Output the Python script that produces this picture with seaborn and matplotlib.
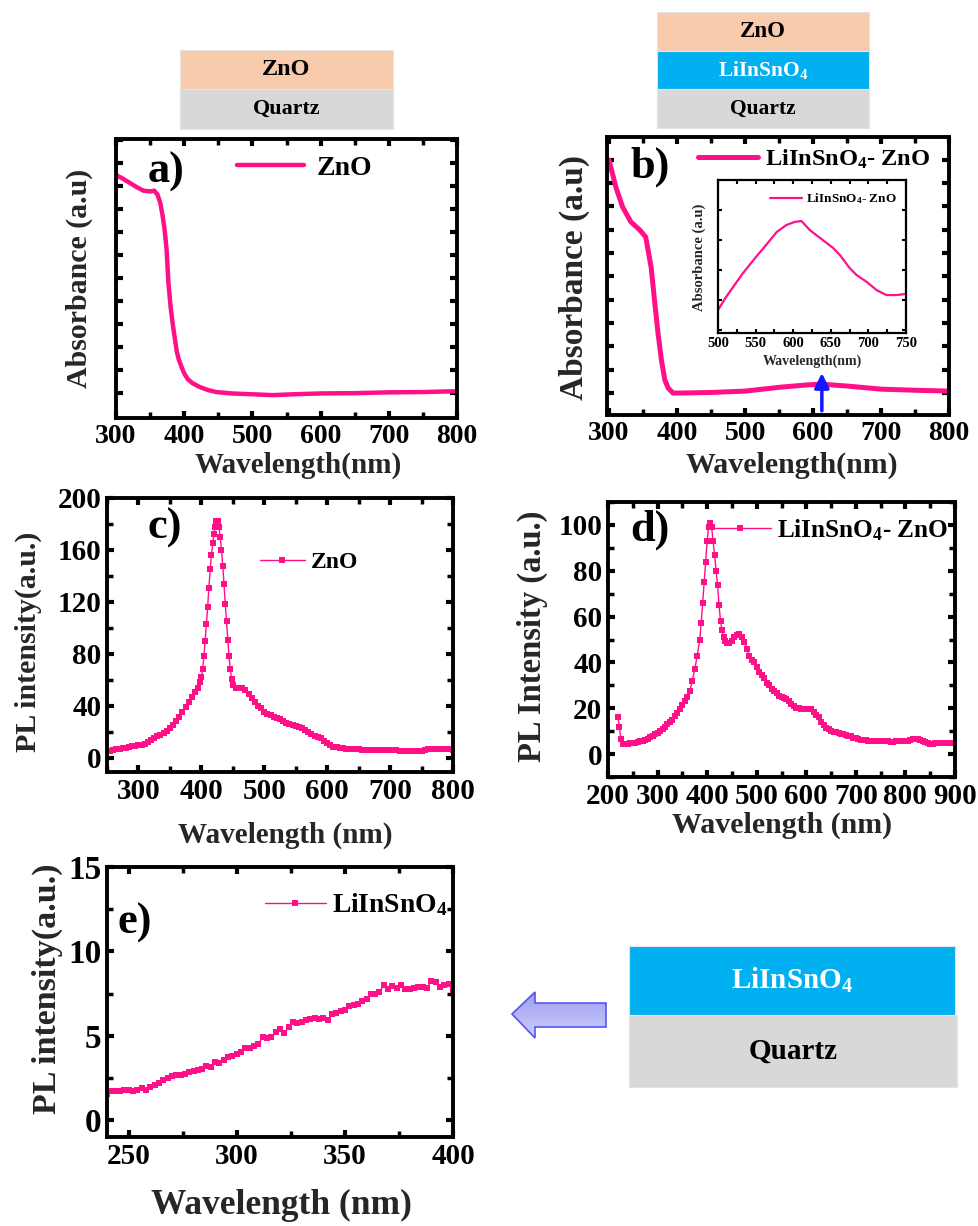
import numpy as np
import matplotlib
matplotlib.use("Agg")
import matplotlib.pyplot as plt
import seaborn as sns
from matplotlib.patches import Rectangle, Polygon
from matplotlib.ticker import MultipleLocator

# ---------------------------------------------------------------- data
# (a) absorbance of ZnO on quartz (arbitrary units)
wl_abs_zno = [300, 310, 320, 330, 340, 350, 356, 361, 365, 368, 371, 374, 377, 380,
              383, 386, 389, 392, 395, 400, 405, 412, 422, 435, 447, 470, 500, 530,
              560, 600, 650, 700, 750, 800]
abs_zno = [0.871, 0.858, 0.843, 0.828, 0.815, 0.812, 0.815, 0.80, 0.77, 0.73, 0.68,
           0.61, 0.48, 0.40, 0.34, 0.29, 0.24, 0.21, 0.19, 0.16, 0.14, 0.125, 0.112,
           0.10, 0.093, 0.088, 0.085, 0.082, 0.085, 0.088, 0.089, 0.092, 0.093, 0.096]

# (b) absorbance of LiInSnO4-ZnO
wl_abs_bi = [300, 310, 320, 332, 345, 354, 362, 367, 372, 377, 382, 387, 394, 404,
             450, 500, 552, 590, 612, 651, 700, 750, 800]
abs_bi = [0.917, 0.82, 0.748, 0.695, 0.666, 0.64, 0.53, 0.41, 0.295, 0.198, 0.126,
          0.097, 0.079, 0.079, 0.081, 0.086, 0.10, 0.108, 0.111, 0.104, 0.093, 0.089,
          0.086]

# (b, inset) visible band of LiInSnO4-ZnO
wl_inset = [500, 510, 520, 533, 551, 564, 578, 591, 602, 611, 622, 636, 653, 662,
            675, 684, 698, 711, 724, 738, 749]
abs_inset = [0.15, 0.23, 0.30, 0.39, 0.50, 0.575, 0.66, 0.706, 0.726, 0.732, 0.673,
             0.62, 0.556, 0.51, 0.425, 0.38, 0.333, 0.28, 0.248, 0.248, 0.255]

# (c) PL of ZnO
wl_pl_zno = np.concatenate([np.arange(250, 396, 5), np.arange(398, 451, 2),
                            np.arange(455, 801, 5)])
pl_zno = [5.0, 5.5, 6.0, 6.5, 7.0, 7.4, 7.8, 8.3, 8.8, 9.3, 9.6, 10.0, 10.6, 12.0,
          13.5, 15.0, 16.5, 17.8, 19.0, 20.5, 22.5, 25.0, 28.0, 31.0, 35.0, 39.0,
          43.0, 47.0, 50.5, 54.0,
          58, 62, 68, 78, 90, 103, 116, 131, 145, 156, 165, 172, 178, 182, 182, 178,
          170, 160, 148, 134, 118, 105, 91, 78, 68, 61, 56,
          54, 53.5, 53.5, 52, 49, 46, 43, 40, 38, 35.5, 34, 33, 31.5, 30.5, 29.5,
          28.5, 27, 26, 25.5, 24.5, 24, 23, 21.5, 20, 18.5, 17, 16, 15, 13, 11, 9.5,
          8.5, 8, 7.5, 7.2, 7, 6.9, 6.8, 6.6, 6.5, 6.3, 6.2, 6.1, 6, 5.9, 5.8, 5.7,
          5.7, 5.6, 5.6, 5.6, 5.6, 5.5, 5.5, 5.4, 5.3, 5.2, 5.2, 5.2, 5.3, 6.0, 6.8,
          7.0, 7.0, 6.9, 6.8, 6.6, 6.5, 6.4, 6.3]

# (d) PL of LiInSnO4-ZnO
wl_pl_bi = np.concatenate([[220, 223, 226, 230], np.arange(235, 386, 5),
                           np.arange(388, 437, 3), np.arange(440, 901, 5)])
pl_bi = [16, 12, 6.5, 4.5,
         4.5, 4.6, 4.7, 4.8, 5.0, 5.2, 5.5, 5.8, 6.2, 6.7, 7.3, 8.0, 8.7, 9.3, 10.0,
         10.8, 12, 13, 14, 15, 16.5, 18, 19.6, 21.5, 23, 25, 27.5, 32, 37, 43, 50,
         57, 66, 75, 84, 93, 99, 101, 99, 93, 87, 80, 74, 65, 58, 54, 51, 49.5,
         48.6, 48.6, 49.5, 51, 52, 52.5, 51, 49, 46, 43, 41, 40, 38, 36, 34.5, 33,
         31, 30, 28.5, 27.5, 26.5, 25.5, 25, 24.6, 24, 23, 22, 21, 20.3, 20, 19.8,
         19.5, 19.8, 19.6, 19.6, 18.5, 17, 16, 14, 12.5, 11.5, 10.8, 10.2, 9.8, 9.5,
         9.2, 8.9, 8.7, 8.4, 8.1, 7.7, 7.2, 6.9, 6.6, 6.3, 6.1, 6.0, 5.9, 5.8, 5.8,
         5.8, 5.7, 5.6, 5.6, 5.5, 5.5, 5.4, 5.4, 5.5, 5.6, 5.6, 5.7, 5.8, 5.9, 6.1,
         6.4, 6.5, 6.5, 6.2, 5.8, 5.2, 4.8, 4.6, 4.6, 4.7, 4.8, 4.8, 4.9, 4.9, 4.8,
         4.8, 4.8, 4.8]

# (e) PL of LiInSnO4
wl_pl_lis = np.arange(240, 401, 2)
pl_lis = [1.55, 1.70, 1.72, 1.73, 1.76, 1.80, 1.72, 1.78, 1.90, 1.80, 1.95, 2.10,
          2.20, 2.35, 2.50, 2.62, 2.65, 2.70, 2.75, 2.85, 2.92, 3.00, 3.05, 3.20,
          3.12, 3.45, 3.40, 3.55, 3.75, 3.80, 3.90, 4.05, 4.30, 4.25, 4.40, 4.50,
          4.95, 4.85, 4.90, 5.20, 5.40, 5.15, 5.50, 5.80, 5.75, 5.80, 5.95, 6.00,
          6.05, 6.00, 6.05, 5.95, 6.30, 6.35, 6.45, 6.55, 6.75, 6.85, 6.90, 7.05,
          7.15, 7.45, 7.50, 7.60, 8.00, 7.80, 7.95, 7.85, 8.00, 7.75, 7.80, 7.85,
          7.90, 7.90, 7.85, 8.25, 8.20, 7.90, 8.00, 8.05, 7.70]

PINK = "#ff1088"
W, H = 979, 1226

# ---------------------------------------------------------------- style
sns.set_theme(style="ticks")
plt.rcParams.update({
    "font.family": ["Liberation Serif", "DejaVu Serif"],
    "font.weight": "bold",
    "axes.labelweight": "bold",
    "mathtext.fontset": "custom",
    "mathtext.rm": "Liberation Serif:bold",
    "mathtext.it": "Liberation Serif:bold:italic",
    "mathtext.bf": "Liberation Serif:bold",
    "axes.linewidth": 2.8,
    "axes.edgecolor": "black",
    "text.color": "black",
    "xtick.color": "black",
    "ytick.color": "black",
})

fig = plt.figure(figsize=(W / 100, H / 100), dpi=100)


def frac(l, t, r, b):
    return [l / W, 1 - b / H, (r - l) / W, (b - t) / H]


def fig_pt(x, y):
    return (x / W, 1 - y / H)


def style_axes(ax, fs):
    ax.tick_params(which="both", direction="in", top=True, right=True,
                   labelsize=fs, pad=4)
    ax.tick_params(which="major", length=5, width=3)
    ax.tick_params(which="minor", length=4, width=2.5)
    for lab in ax.get_xticklabels() + ax.get_yticklabels():
        lab.set_fontweight("bold")


def place_labels(ax, box, xl, yl, xfs, yfs, xpos, ypos):
    l, t, r, b = box
    ax.set_xlabel(xl, fontsize=xfs, fontweight="bold")
    ax.set_ylabel(yl, fontsize=yfs, fontweight="bold")
    ax.xaxis.set_label_coords((xpos[0] - l) / (r - l), (b - xpos[1]) / (b - t))
    ax.yaxis.set_label_coords((ypos[0] - l) / (r - l), (b - ypos[1]) / (b - t))


def legend_at(ax, x, y, fs, hl, tp=0.4):
    ax.legend(loc="center left", bbox_to_anchor=fig_pt(x, y),
              bbox_transform=fig.transFigure, frameon=False, borderpad=0,
              borderaxespad=0, handlelength=hl, handletextpad=tp, numpoints=1,
              prop={"size": fs, "weight": "bold"})


# ---------------------------------------------------------------- (a)
box_a = (116, 139, 457, 418)
ax_a = fig.add_axes(frac(*box_a))
sns.lineplot(x=wl_abs_zno, y=abs_zno, ax=ax_a, color=PINK, lw=3.2, label="ZnO")
ax_a.set_xlim(300, 800)
ax_a.set_ylim(0, 1)
ax_a.xaxis.set_major_locator(MultipleLocator(100))
ax_a.xaxis.set_minor_locator(MultipleLocator(50))
ax_a.set_yticks(np.arange(0.09, 1.0, 0.0825))
ax_a.tick_params(labelleft=False)
style_axes(ax_a, 20)
place_labels(ax_a, box_a, "Wavelength(nm)", "Absorbance (a.u)", 21, 21.5,
             (298, 452), (93, 278))
legend_at(ax_a, 237, 168, 20, 2.4, 0.47)

# ---------------------------------------------------------------- (b)
box_b = (607, 137, 949, 415)
ax_b = fig.add_axes(frac(*box_b))
sns.lineplot(x=wl_abs_bi, y=abs_bi, ax=ax_b, color=PINK, lw=3.6,
             label="LiInSnO$_4$- ZnO")
ax_b.set_xlim(297, 800)
ax_b.set_ylim(0, 1)
ax_b.xaxis.set_major_locator(MultipleLocator(100))
ax_b.xaxis.set_minor_locator(MultipleLocator(50))
ax_b.set_yticks(np.arange(0.079, 1.0, 0.0839))
ax_b.tick_params(labelleft=False)
style_axes(ax_b, 20)
place_labels(ax_b, box_b, "Wavelength(nm)", "Absorbance (a.u)", 21.5, 24,
             (792, 452), (590, 278))
legend_at(ax_b, 698, 159, 17.6, 2.45, 0.29)
ax_b.annotate("", xy=(613, 0.151), xytext=(613, 0.015),
              arrowprops=dict(arrowstyle="-|>", color="#1515ff", lw=2.5,
                              mutation_scale=22, shrinkA=0, shrinkB=0))

# inset
box_in = (718, 180, 906, 333)
ax_in = fig.add_axes(frac(*box_in))
sns.lineplot(x=wl_inset, y=abs_inset, ax=ax_in, color=PINK, lw=1.6,
             label="LiInSnO$_4$- ZnO")
ax_in.set_xlim(500, 750)
ax_in.set_ylim(0, 1)
ax_in.xaxis.set_major_locator(MultipleLocator(50))
ax_in.xaxis.set_minor_locator(MultipleLocator(25))
ax_in.set_yticks(np.arange(0.02, 1.0, 0.196))
for s in ax_in.spines.values():
    s.set_linewidth(1.6)
ax_in.tick_params(which="both", direction="in", top=True, right=True,
                  labelsize=10.5, pad=3, length=3, width=1.5, labelleft=False)
for lab in ax_in.get_xticklabels():
    lab.set_fontweight("bold")
place_labels(ax_in, box_in, "Wavelength(nm)", "Absorbance (a.u)", 10, 10.5,
             (812, 355), (706, 257))
legend_at(ax_in, 770, 199, 9.5, 2.4, 0.3)

# ---------------------------------------------------------------- (c)
box_c = (107, 498, 453, 772)
ax_c = fig.add_axes(frac(*box_c))
sns.lineplot(x=wl_pl_zno, y=pl_zno, ax=ax_c, color=PINK, lw=1.0, marker="s",
             markersize=4, markeredgewidth=0, label="ZnO")
ax_c.set_xlim(250, 800)
ax_c.set_ylim(-11, 200)
ax_c.xaxis.set_major_locator(MultipleLocator(100))
ax_c.xaxis.set_minor_locator(MultipleLocator(50))
ax_c.yaxis.set_major_locator(MultipleLocator(40))
ax_c.yaxis.set_minor_locator(MultipleLocator(20))
style_axes(ax_c, 21)
place_labels(ax_c, box_c, "Wavelength (nm)", "PL intensity(a.u.)", 21, 21.5,
             (285, 822), (42, 642))
legend_at(ax_c, 260, 562, 17, 1.9, 0.27)

# ---------------------------------------------------------------- (d)
box_d = (608, 502, 955, 777)
ax_d = fig.add_axes(frac(*box_d))
sns.lineplot(x=wl_pl_bi, y=pl_bi, ax=ax_d, color=PINK, lw=1.0, marker="s",
             markersize=5, markeredgewidth=0, label="LiInSnO$_4$- ZnO")
ax_d.set_xlim(200, 900)
ax_d.set_ylim(-10, 110)
ax_d.xaxis.set_major_locator(MultipleLocator(100))
ax_d.xaxis.set_minor_locator(MultipleLocator(50))
ax_d.yaxis.set_major_locator(MultipleLocator(20))
ax_d.yaxis.set_minor_locator(MultipleLocator(10))
style_axes(ax_d, 21)
place_labels(ax_d, box_d, "Wavelength (nm)", "PL Intensity (a.u.)", 21.5, 23.5,
             (782, 812), (548, 636))
legend_at(ax_d, 710, 530, 18.2, 2.4, 0.24)

# ---------------------------------------------------------------- (e)
box_e = (107, 867, 453, 1137)
ax_e = fig.add_axes(frac(*box_e))
sns.lineplot(x=wl_pl_lis, y=pl_lis, ax=ax_e, color=PINK, lw=1.0, marker="s",
             markersize=4.5, markeredgewidth=0, label="LiInSnO$_4$")
ax_e.set_xlim(240, 400)
ax_e.set_ylim(-1, 15)
ax_e.xaxis.set_major_locator(MultipleLocator(50))
ax_e.xaxis.set_minor_locator(MultipleLocator(25))
ax_e.yaxis.set_major_locator(MultipleLocator(5))
ax_e.yaxis.set_minor_locator(MultipleLocator(2.5))
style_axes(ax_e, 21)
ax_e.tick_params(axis="y", labelsize=24)
place_labels(ax_e, box_e, "Wavelength (nm)", "PL intensity(a.u.)", 25.5, 24.5,
             (281, 1189), (63, 989))
legend_at(ax_e, 265, 905, 19.8, 2.2, 0.25)

# ---------------------------------------------------------------- panel letters
for txt, (x, y) in {"a)": (148, 172), "b)": (630, 167), "c)": (148, 528),
                    "d)": (630, 530), "e)": (118, 923)}.items():
    fig.text(*fig_pt(x, y), txt, fontsize=32, fontweight="bold",
             ha="left", va="center")

# ---------------------------------------------------------------- layer stacks
ov = fig.add_axes([0, 0, 1, 1], zorder=-1)
ov.set_xlim(0, W)
ov.set_ylim(H, 0)
ov.axis("off")

ZNO_C, LIS_C, QTZ_C = "#f7cbac", "#00b0f0", "#d8d8d8"


def layer(x0, y0, x1, y1, color, text, tcolor, fs):
    ov.add_patch(Rectangle((x0, y0), x1 - x0, y1 - y0, facecolor=color,
                           edgecolor="#e4e4e4", lw=0.8))
    ov.text((x0 + x1) / 2, (y0 + y1) / 2, text, color=tcolor, fontsize=fs,
            fontweight="bold", ha="center", va="center")


layer(180, 50, 393, 89, ZNO_C, "ZnO", "black", 17.5)
layer(180, 89, 393, 129, QTZ_C, "Quartz", "black", 15.8)

layer(657, 12, 869, 51, ZNO_C, "ZnO", "black", 16.5)
layer(657, 51, 869, 89, LIS_C, "LiInSnO$_4$", "white", 15.5)
layer(657, 89, 869, 128, QTZ_C, "Quartz", "black", 15.5)

layer(629, 946, 955, 1015, LIS_C, "LiInSnO$_4$", "white", 21)
layer(629, 1015, 957, 1087, QTZ_C, "Quartz", "black", 21)

# block arrow pointing to panel (e), with a soft vertical gradient
arrow_xy = [(512, 1014), (535, 992), (535, 1003), (606, 1003),
            (606, 1027), (535, 1027), (535, 1038)]
arrow = Polygon(arrow_xy, closed=True, facecolor="none", edgecolor="#5656ee",
                lw=1.2, zorder=3)
ov.add_patch(arrow)
grad = np.linspace(0, 1, 64).reshape(-1, 1)
cmap = matplotlib.colors.LinearSegmentedColormap.from_list(
    "lav", ["#9d9df0", "#cfcfff"])
im = ov.imshow(grad, cmap=cmap, extent=(510, 608, 1040, 990), aspect="auto",
               zorder=2)
clip = Polygon(arrow_xy, closed=True, transform=ov.transData)
im.set_clip_path(clip)
ov.set_xlim(0, W)
ov.set_ylim(H, 0)

fig.savefig("out.png", dpi=100)
